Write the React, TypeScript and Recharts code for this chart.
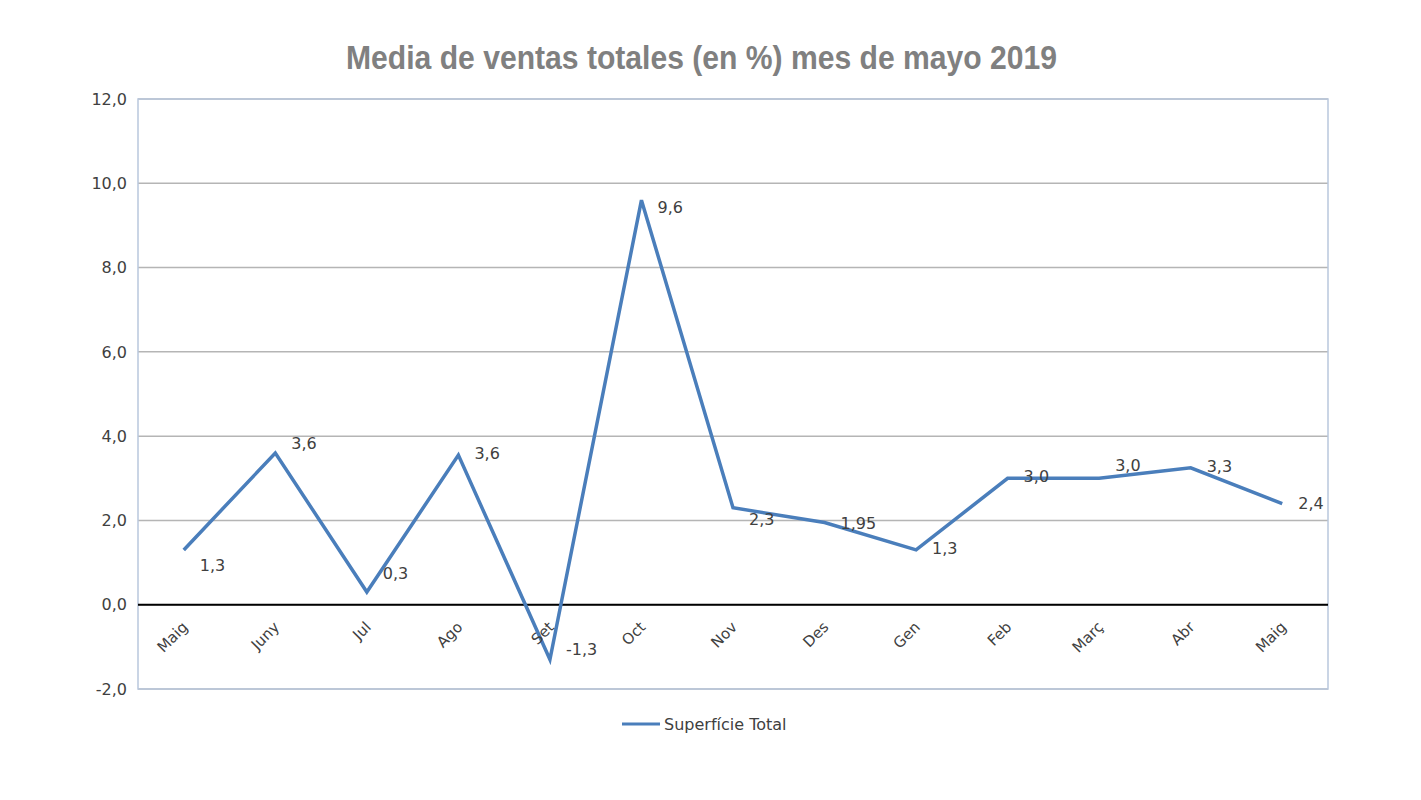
import React from "react";
import {
  LineChart,
  Line,
  XAxis,
  YAxis,
  CartesianGrid,
  ReferenceLine,
  ReferenceArea,
  Legend,
} from "recharts";

const months = ["Maig", "Juny", "Jul", "Ago", "Set", "Oct", "Nov", "Des", "Gen", "Feb", "Març", "Abr", "Maig"];
const values = [1.3, 3.6, 0.3, 3.55, -1.3, 9.6, 2.3, 1.95, 1.3, 3.0, 3.0, 3.25, 2.4];
const labelTexts = ["1,3", "3,6", "0,3", "3,6", "-1,3", "9,6", "2,3", "1,95", "1,3", "3,0", "3,0", "3,3", "2,4"];
const yTicks = [-2, 0, 2, 4, 6, 8, 10, 12];
const seriesName = "Superfície Total";
const title = "Media de ventas totales (en %) mes de mayo 2019";

// style: vertical offsets of data labels relative to each point
const labelDy = [16, -9, -18, -1, -10, 8, 12, 1, -1, -1, -12, -1, 0];

const data = months.map((m, i) => ({ key: i, month: m, value: values[i] }));

const FONT = "'DejaVu Sans', sans-serif";
const TEXT = "#404040";

const fmt = (v: number) => v.toFixed(1).replace(".", ",");

const XTick = (props: any) => {
  const { x, y, payload } = props;
  const label = months[payload.value] ?? "";
  const ax = x + 5;
  const ay = y - 61;
  return (
    <text
      x={ax}
      y={ay}
      textAnchor="end"
      transform={`rotate(-45 ${ax} ${ay})`}
      fontFamily={FONT}
      fontSize={15}
      fill={TEXT}
    >
      {label}
    </text>
  );
};

const PointLabel = (props: any) => {
  const { x, y, index } = props;
  return (
    <text
      x={x + 16}
      y={y + labelDy[index] + 5}
      textAnchor="start"
      fontFamily={FONT}
      fontSize={16}
      fill={TEXT}
    >
      {labelTexts[index]}
    </text>
  );
};

const LegendContent = () => (
  <div style={{ display: "flex", alignItems: "center" }}>
    <svg width={42} height={20}>
      <line x1={0} y1={10} x2={38} y2={10} stroke="#4a7ebb" strokeWidth={3} />
    </svg>
    <span style={{ fontFamily: FONT, fontSize: 16, color: TEXT, marginLeft: 0 }}>{seriesName}</span>
  </div>
);

export default function App() {
  return (
    <div style={{ position: "absolute", left: 0, top: 0, width: 1421, height: 800, background: "#fff" }}>
      <svg style={{ position: "absolute", left: 0, top: 0 }} width={1421} height={90}>
        <text
          x={346}
          y={69}
          fontFamily="'Liberation Sans', Arial, sans-serif"
          fontWeight="bold"
          fontSize={33}
          fill="#808080"
          textLength={711}
          lengthAdjust="spacingAndGlyphs"
        >
          {title}
        </text>
      </svg>
      <div style={{ position: "absolute", left: 0, top: 0 }}>
        <LineChart width={1421} height={800} data={data} margin={{ top: 99, right: 93, bottom: 81, left: 0 }}>
          <CartesianGrid vertical={false} stroke="#b5b5b5" strokeWidth={1.5} />
          <ReferenceArea y1={-2} y2={12} fill="none" stroke="#b9c7dd" strokeWidth={1.5} ifOverflow="visible" />
          <XAxis
            dataKey="key"
            type="category"
            scale="band"
            axisLine={false}
            tickLine={false}
            tickSize={0}
            tickMargin={0}
            interval={0}
            tick={<XTick />}
          />
          <YAxis
            domain={[-2, 12]}
            ticks={yTicks}
            type="number"
            width={138}
            axisLine={false}
            tickLine={false}
            tickSize={0}
            tickMargin={11}
            tickFormatter={fmt}
            tick={{ fontFamily: FONT, fontSize: 16, fill: TEXT }}
          />
          <ReferenceLine y={0} stroke="#000" strokeWidth={2} />
          <Line
            type="linear"
            dataKey="value"
            name={seriesName}
            stroke="#4a7ebb"
            strokeWidth={3.5}
            dot={false}
            activeDot={false}
            isAnimationActive={false}
            label={<PointLabel />}
          />
          <Legend
            layout="horizontal"
            verticalAlign="middle"
            align="center"
            wrapperStyle={{ top: 714, left: 622, width: 300 }}
            content={<LegendContent />}
          />
        </LineChart>
      </div>
    </div>
  );
}
